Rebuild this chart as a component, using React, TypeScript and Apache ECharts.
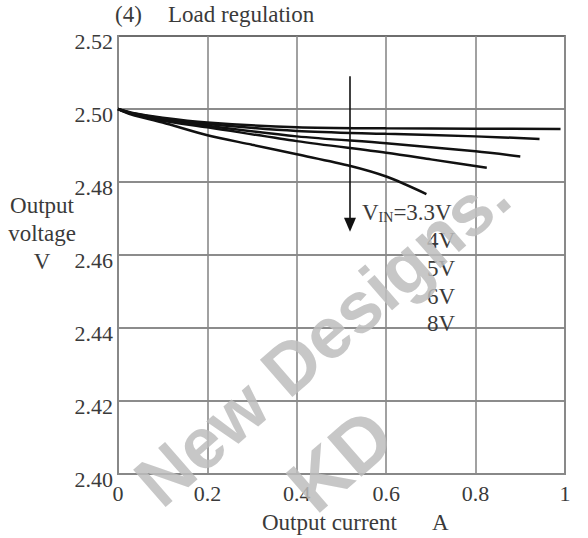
import React, { useEffect, useRef } from "react";
import * as echarts from "echarts";

const xTicks = [0, 0.2, 0.4, 0.6, 0.8, 1];
const yTicks = [2.4, 2.42, 2.44, 2.46, 2.48, 2.5, 2.52];

const vin33: [number, number][] = [[0, 2.5], [0.03, 2.4985], [0.1, 2.4963], [0.2, 2.4928], [0.3, 2.4902], [0.4, 2.4876], [0.52, 2.4844], [0.6, 2.4815], [0.69, 2.4767]];
const vin4: [number, number][] = [[0, 2.5], [0.03, 2.4987], [0.1, 2.4968], [0.2, 2.495], [0.4, 2.4912], [0.6, 2.488], [0.7, 2.4862], [0.825, 2.4839]];
const vin5: [number, number][] = [[0, 2.5], [0.03, 2.4988], [0.1, 2.4972], [0.2, 2.4954], [0.4, 2.4925], [0.6, 2.4906], [0.8, 2.4884], [0.9, 2.487]];
const vin6: [number, number][] = [[0, 2.5], [0.03, 2.4989], [0.1, 2.4974], [0.2, 2.4959], [0.4, 2.494], [0.6, 2.4932], [0.8, 2.4925], [0.943, 2.4918]];
const vin8: [number, number][] = [[0, 2.5], [0.03, 2.499], [0.1, 2.4976], [0.2, 2.4963], [0.4, 2.495], [0.6, 2.4947], [0.8, 2.4946], [0.99, 2.4945]];

const seriesNames = ["3.3V", "4V", "5V", "6V", "8V"];
const seriesData = [vin33, vin4, vin5, vin6, vin8];

const arrowStart: [number, number] = [0.519, 2.509];
const arrowEnd: [number, number] = [0.519, 2.4683];

const SERIF = "'Liberation Serif', 'Times New Roman', serif";
const TXT = "#3a3a3a";

export default function App() {
  const ref = useRef<HTMLDivElement>(null);
  useEffect(() => {
    document.body.style.margin = "0";
    const chart = echarts.init(ref.current!, null, { renderer: "svg" });
    const lineSeries = seriesData.map((d, i) => ({
      name: seriesNames[i],
      type: "line",
      data: d,
      showSymbol: false,
      smooth: 0.3,
      lineStyle: { color: "#111", width: 2.5 },
      z: 5,
      ...(i === 0
        ? {
            markLine: {
              silent: true,
              symbol: ["none", "triangle"],
              symbolSize: [12, 14],
              label: { show: false },
              lineStyle: { color: "#111", width: 1.6, type: "solid" },
              data: [[{ coord: arrowStart }, { coord: arrowEnd }]],
            },
          }
        : {}),
    }));
    const legendLabels = [
      { text: "4V", x: 427, y: 240 },
      { text: "5V", x: 427, y: 268 },
      { text: "6V", x: 427, y: 296 },
      { text: "8V", x: 427, y: 323 },
    ];
    chart.setOption({
      animation: false,
      backgroundColor: "#fff",
      grid: { left: 118, right: 23, top: 36, bottom: 64, show: true, borderColor: "#888", borderWidth: 2 },
      xAxis: {
        type: "value",
        min: xTicks[0],
        max: xTicks[xTicks.length - 1],
        interval: 0.2,
        axisLine: { show: true, lineStyle: { color: "#888", width: 2 } },
        axisTick: { show: false },
        splitLine: { show: true, lineStyle: { color: "#8a8a8a", width: 1.6 } },
        axisLabel: { fontFamily: SERIF, fontSize: 22, color: TXT, margin: 8 },
      },
      yAxis: {
        type: "value",
        min: yTicks[0],
        max: yTicks[yTicks.length - 1],
        interval: 0.02,
        axisLine: { show: true, lineStyle: { color: "#888", width: 2 } },
        axisTick: { show: false },
        splitLine: { show: true, lineStyle: { color: "#666", width: 1.6 } },
        axisLabel: {
          margin: 5,
          formatter: (v: number) => `{a|${v.toFixed(2)}}`,
          rich: {
            a: { fontFamily: SERIF, fontSize: 22, color: TXT, padding: [10, 0, 0, 0] },
          },
        },
      },
      series: lineSeries,
      graphic: [
        { type: "text", left: 115, top: 3, style: { text: "(4)", font: `23px ${SERIF}`, fill: TXT } },
        { type: "text", left: 168, top: 3, style: { text: "Load regulation", font: `23px ${SERIF}`, fill: TXT } },
        { type: "text", x: 42, y: 205, style: { text: "Output", font: `23px ${SERIF}`, fill: TXT, align: "center", verticalAlign: "middle" } },
        { type: "text", x: 42, y: 233, style: { text: "voltage", font: `23px ${SERIF}`, fill: TXT, align: "center", verticalAlign: "middle" } },
        { type: "text", x: 42, y: 261, style: { text: "V", font: `23px ${SERIF}`, fill: TXT, align: "center", verticalAlign: "middle" } },
        { type: "text", x: 262, y: 522, style: { text: "Output current", font: `23px ${SERIF}`, fill: TXT, verticalAlign: "middle" } },
        { type: "text", x: 432, y: 522, style: { text: "A", font: `23px ${SERIF}`, fill: TXT, verticalAlign: "middle" } },
        {
          type: "text",
          x: 362,
          y: 212,
          z: 10,
          style: {
            text: "{v|V}{s|IN}{v|=3.3V}",
            verticalAlign: "middle",
            rich: {
              v: { font: `23px ${SERIF}`, fill: TXT, lineHeight: 24 },
              s: { font: `14px ${SERIF}`, fill: TXT, lineHeight: 24, padding: [10, 0, 0, 0] },
            },
          },
        },
        ...legendLabels.map((l) => ({
          type: "text",
          x: l.x,
          y: l.y,
          z: 10,
          style: { text: l.text, font: `23px ${SERIF}`, fill: TXT, verticalAlign: "middle" },
        })),
        {
          type: "text",
          x: 322,
          y: 338,
          rotation: 0.716,
          z: 100,
          style: {
            text: "New Designs.",
            font: `bold 72px 'Liberation Sans', Arial, sans-serif`,
            fill: "#bdbdbd",
            opacity: 0.85,
            align: "center",
            verticalAlign: "middle",
          },
        },
        {
          type: "text",
          x: 340,
          y: 460,
          rotation: 0.716,
          z: 100,
          style: {
            text: "KD",
            font: `bold 76px 'Liberation Sans', Arial, sans-serif`,
            fill: "#bdbdbd",
            opacity: 0.85,
            align: "center",
            verticalAlign: "middle",
          },
        },
      ],
    });
    return () => chart.dispose();
  }, []);
  return <div ref={ref} style={{ width: 588, height: 538 }} />;
}
